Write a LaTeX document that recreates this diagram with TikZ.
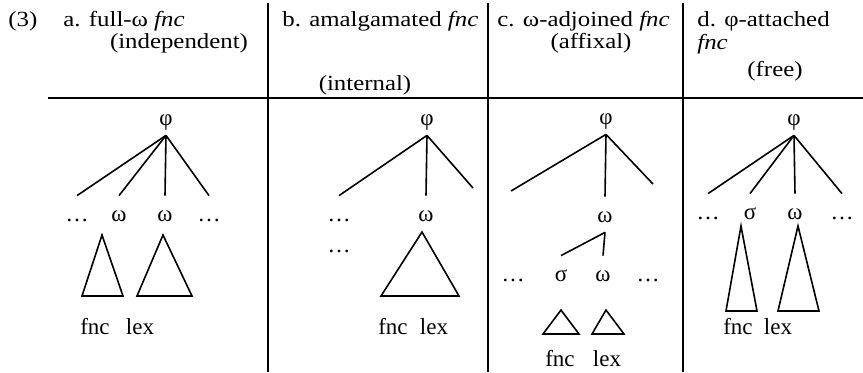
\documentclass[tikz,border=0pt]{standalone}
\usepackage{fontspec}
\setmainfont{Liberation Serif}
\newfontfamily\headfont{Liberation Serif}[FakeStretch=1.15]
\usepackage{tikz}

\begin{document}
\begin{tikzpicture}[x=0.5pt, y=-0.5pt,
        head/.style={font=\headfont\fontsize{10.8}{13}\selectfont, inner sep=0pt, anchor=base west},
        sub/.style={head, anchor=base},
        lbl/.style={font=\fontsize{11.5}{13}\selectfont, inner xsep=0pt, inner ysep=5pt, text height=7.5pt, text depth=0pt, anchor=base},
        rule/.style={line width=1pt},
        branch/.style={line width=0.8pt}]

    \useasboundingbox (0,0) rectangle (863,372);

    % header
    \node[head] (num) at (8,26) {(3)};
    \node[head] (headA) at (63,26) {a. full-ω \textit{fnc}};
    \node[sub] (subA) at (179,48) {(independent)};
    \node[head] (headB) at (282,26) {b. amalgamated \textit{fnc}};
    \node[sub] (subB) at (365,90) {(internal)};
    \node[head] (headC) at (497,26) {c. ω-adjoined \textit{fnc}};
    \node[sub] (subC) at (591,48) {(affixal)};
    \node[head] (headD) at (697,26) {d. φ-attached};
    \node[head] (fncD) at (697,49) {\textit{fnc}};
    \node[sub] (subD) at (775,76) {(free)};

    \draw[rule] (48,98) -- (863,98);
    \draw[rule] (268,3) -- (268,372);
    \draw[rule] (488,3) -- (488,372);
    \draw[rule] (683,3) -- (683,372);

    % a. full
    \node[lbl] (phiA) at (166,125) {φ};
    \node[lbl] (dotsA1) at (77,221) {…};
    \node[lbl] (omA1) at (119,221) {ω};
    \node[lbl] (omA2) at (165,221) {ω};
    \node[lbl] (dotsA2) at (209,221) {…};
    \path[branch]
        (phiA.south) edge (dotsA1.north)
        (phiA.south) edge (omA1.north)
        (phiA.south) edge (omA2.north)
        (phiA.south) edge (dotsA2.north);
    \draw[branch] (102,235) -- (123,296) -- (82,296) -- cycle;
    \draw[branch] (163,235) -- (192,296) -- (137,296) -- cycle;
    \node[lbl] (fncA) at (95,334) {fnc};
    \node[lbl] (lexA) at (140,334) {lex};

    % b. amalgamated
    \node[lbl] (phiB) at (427,125) {φ};
    \node[lbl] (dotsB1) at (339,221) {…};
    \node[lbl] (omB) at (426,221) {ω};
    \node[lbl] (dotsB2) at (339,252) {…};
    \coordinate (endB) at (473,188);
    \path[branch]
        (phiB.south) edge (dotsB1.north)
        (phiB.south) edge (omB.north)
        (phiB.south) edge (endB);
    \draw[branch] (422,232) -- (459,296) -- (381,296) -- cycle;
    \node[lbl] (fncB) at (393,334) {fnc};
    \node[lbl] (lexB) at (434,334) {lex};

    % c. adjoined
    \node[lbl] (phiC) at (606,124) {φ};
    \coordinate (endC1) at (511,191);
    \coordinate (endC2) at (653,184);
    \node[lbl] (omC) at (605,222) {ω};
    \path[branch]
        (phiC.south) edge (endC1)
        (phiC.south) edge (omC.north)
        (phiC.south) edge (endC2);
    \node[lbl] (dotsC1) at (513,281) {…};
    \node[lbl] (sigC) at (561,281) {σ};
    \node[lbl] (omC2) at (603,281) {ω};
    \node[lbl] (dotsC2) at (648,281) {…};
    \path[branch]
        (omC.south) edge (sigC.north)
        (omC.south) edge (omC2.north);
    \draw[branch] (561,310) -- (579,334) -- (543,334) -- cycle;
    \draw[branch] (606,310) -- (624,334) -- (592,334) -- cycle;
    \node[lbl] (fncC) at (560,366) {fnc};
    \node[lbl] (lexC) at (607,366) {lex};

    % d. attached
    \node[lbl] (phiD) at (794,125) {φ};
    \node[lbl] (dotsD1) at (708,219) {…};
    \node[lbl] (sigD) at (750,219) {σ};
    \node[lbl] (omD) at (795,219) {ω};
    \node[lbl] (dotsD2) at (842,219) {…};
    \path[branch]
        (phiD.south) edge (dotsD1.north)
        (phiD.south) edge (sigD.north)
        (phiD.south) edge (omD.north)
        (phiD.south) edge (dotsD2.north);
    \draw[branch] (741,226) -- (757,311) -- (726,311) -- cycle;
    \draw[branch] (798,226) -- (819,311) -- (778,311) -- cycle;
    \node[lbl] (fncD2) at (738,334) {fnc};
    \node[lbl] (lexD) at (778,334) {lex};
\end{tikzpicture}
\end{document}
